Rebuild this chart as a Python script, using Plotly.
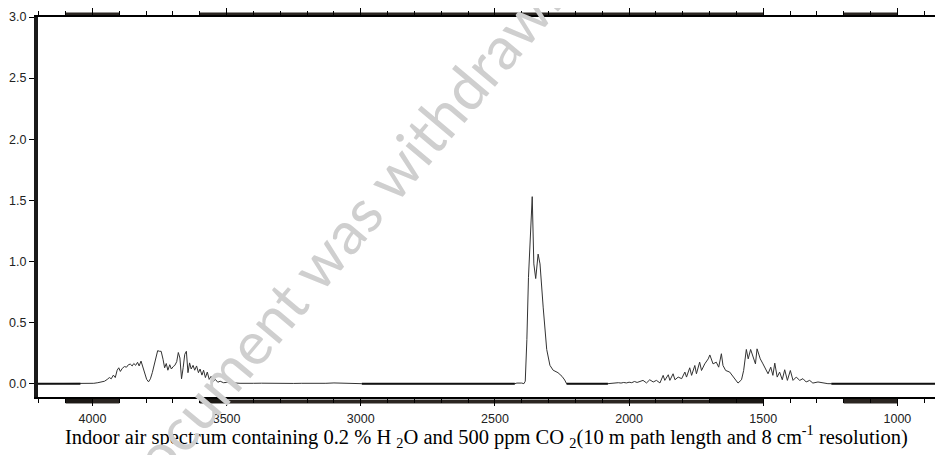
import plotly.graph_objects as go

# Wavenumber (cm-1) and absorbance
wavenumber = [
    4203, 4045, 4030, 4010, 3995, 3980, 3965, 3955, 3945, 3937, 3930, 3922, 3915, 3908, 3902, 3896,
    3889, 3881, 3873, 3866, 3859, 3852, 3846, 3839, 3832, 3826, 3819, 3812, 3805, 3798, 3791, 3784,
    3777, 3770, 3763, 3757, 3750, 3744, 3737, 3731, 3725, 3719, 3712, 3706, 3699, 3693, 3686, 3680,
    3674, 3668, 3662, 3656, 3650, 3644, 3638, 3632, 3625, 3619, 3612, 3605, 3599, 3592, 3586, 3579,
    3572, 3565, 3558, 3550, 3542, 3533, 3524, 3512, 3500, 3485, 3470, 3450, 3430, 3400, 3370, 3340,
    3310, 3280, 3250, 3220, 3190, 3160, 3130, 3100, 3070, 3040, 3010, 2996,
    2426, 2418, 2400, 2392, 2387, 2381, 2375, 2368, 2361, 2355, 2348, 2339, 2332, 2320, 2307, 2295,
    2283, 2265, 2250, 2240, 2233,
    2079, 2070, 2060, 2050, 2040, 2030, 2020, 2010, 2000, 1990, 1980, 1970, 1960, 1948, 1935, 1923,
    1910, 1898, 1885, 1873, 1867, 1854, 1848, 1836, 1829, 1817, 1804, 1792, 1786, 1774, 1767, 1755,
    1749, 1737, 1730, 1718, 1705, 1699, 1687, 1675, 1666, 1656, 1650, 1640, 1625, 1606, 1594, 1581,
    1573, 1563, 1556, 1547, 1538, 1529, 1523, 1511, 1501, 1491, 1482, 1472, 1464, 1457, 1448, 1439,
    1429, 1420, 1410, 1399, 1389, 1377, 1364, 1352, 1340, 1327, 1315, 1296, 1278, 1259, 1246, 830,
]
absorbance = [
    0, 0, 0.002, 0.004, 0.003, 0.008, 0.012, 0.02, 0.035, 0.05, 0.04, 0.07, 0.05, 0.11, 0.13, 0.10,
    0.125, 0.14, 0.135, 0.155, 0.16, 0.145, 0.165, 0.15, 0.175, 0.145, 0.185, 0.13, 0.09, 0.035, 0.015, 0.04,
    0.09, 0.15, 0.22, 0.27, 0.265, 0.265, 0.20, 0.13, 0.165, 0.11, 0.155, 0.12, 0.14, 0.15, 0.18, 0.255,
    0.21, 0.04, 0.13, 0.24, 0.265, 0.09, 0.17, 0.12, 0.15, 0.11, 0.145, 0.09, 0.12, 0.07, 0.11, 0.05,
    0.095, 0.035, 0.06, 0.02, 0.035, 0.012, 0.02, 0.008, 0.01, 0.005, 0.006, 0.003, 0.005, 0.003, 0.004, 0.002,
    0.004, 0.003, 0.002, 0.003, 0.002, 0.004, 0.003, 0.006, 0.003, 0.005, 0.002, 0,
    0, 0.005, 0.005, 0.0, 0.02, 0.36, 0.87, 1.26, 1.53, 0.98, 0.86, 1.06, 0.98, 0.62, 0.28, 0.15,
    0.11, 0.09, 0.06, 0.03, 0,
    0, 0.003, 0.006, 0.004, 0.008, 0.005, 0.01, 0.006, 0.012, 0.008, 0.018, 0.01, 0.015, 0.027, 0.006, 0.032,
    0.014, 0.027, 0.006, 0.068, 0.027, 0.073, 0.027, 0.081, 0.032, 0.054, 0.041, 0.095, 0.054, 0.13, 0.068, 0.149,
    0.081, 0.176, 0.108, 0.162, 0.203, 0.235, 0.162, 0.176, 0.135, 0.245, 0.149, 0.108, 0.095, 0.041, 0.005, 0.032,
    0.108, 0.28, 0.203, 0.28, 0.216, 0.162, 0.285, 0.203, 0.162, 0.122, 0.081, 0.135, 0.068, 0.168, 0.054, 0.095,
    0.032, 0.114, 0.027, 0.108, 0.027, 0.054, 0.027, 0.041, 0.014, 0.027, 0.005, 0.014, 0.005, 0.0, 0, 0,
]

# flat (zero) baseline stretches, drawn heavier as in the reference
baseline_start = [4203, 2996, 2233, 1246]
baseline_end = [4045, 2426, 2079, 830]

x_ticks = [4000, 3500, 3000, 2500, 2000, 1500, 1000]
y_ticks = [0.0, 0.5, 1.0, 1.5, 2.0, 2.5, 3.0]

caption = ("Indoor air spectrum containing 0.2 % H <sub>2</sub>O and 500 ppm CO <sub>2</sub>"
           "(10 m path length and 8 cm<sup>-1</sup> resolution)")
watermark = "document was withdrawn"

fig = go.Figure()
fig.add_trace(go.Scatter(x=wavenumber, y=absorbance, mode="lines",
                         line=dict(color="#333333", width=1), hoverinfo="skip", showlegend=False))
for s, e in zip(baseline_start, baseline_end):
    fig.add_trace(go.Scatter(x=[s, e], y=[0, 0], mode="lines",
                             line=dict(color="#111111", width=2), hoverinfo="skip", showlegend=False))

# decorative dark bars along the top and bottom axes (as in the scanned original)
dark = "#2b2622"
blk = "#1c1915"
shapes = []
top_bars = [(4100, 3900), (3600, 1500), (1200, 1000)]
for a, b in top_bars:
    shapes.append(dict(type="rect", xref="x", yref="paper", x0=a, x1=b, y0=1.001, y1=1.012,
                       fillcolor=dark, line=dict(width=0), layer="below"))
bottom_bars = [(4100, 4000, blk), (4000, 3900, dark), (3600, 3500, blk), (3500, 1700, dark),
               (1700, 1500, blk), (1200, 1000, dark)]
for a, b, c in bottom_bars:
    shapes.append(dict(type="rect", xref="x", yref="paper", x0=a, x1=b, y0=-0.017, y1=-0.001,
                       fillcolor=c, line=dict(width=0), layer="below"))
shapes.append(dict(type="rect", xref="x", yref="paper", x0=3500, x1=1700, y0=-0.008, y1=-0.003,
                   fillcolor="#a8a8a8", line=dict(width=0), layer="below"))

# the page body adds an 8px offset, so the figure is 8px smaller and margins shifted
fig.update_layout(
    width=935, height=447,
    margin=dict(l=30, r=0, t=5, b=58),
    paper_bgcolor="white", plot_bgcolor="white",
    shapes=shapes,
    xaxis=dict(range=[4203, 830], tickvals=x_ticks, ticktext=[str(v) for v in x_ticks],
               showgrid=False, zeroline=False, showline=True, linecolor="black", linewidth=1.5,
               mirror="ticks", ticks="outside", ticklen=7, tickwidth=1.2, tickcolor="black",
               ticklabelstandoff=2,
               minor=dict(dtick=100, tick0=0, ticks="outside", ticklen=4, tickwidth=1, tickcolor="black"),
               tickfont=dict(family="Liberation Sans, Arial", size=12.5, color="#222222")),
    yaxis=dict(range=[-0.109, 3.0], tickvals=y_ticks, ticktext=[f"{v:.1f}" for v in y_ticks],
               showgrid=False, zeroline=False, showline=True, linecolor="#1a1a1a", linewidth=4,
               ticks="outside", ticklen=5, tickwidth=1.2, tickcolor="black",
               tickfont=dict(family="Liberation Sans, Arial", size=12.5, color="#222222")),
    annotations=[
        dict(text=caption, xref="paper", yref="paper", x=0.496, y=-0.104, xanchor="center",
             yanchor="middle", showarrow=False,
             font=dict(family="Liberation Serif, Times New Roman", size=20.5, color="black")),
        dict(text=watermark, xref="paper", yref="paper", x=0.335, y=0.43, xanchor="center",
             yanchor="middle", showarrow=False, textangle=-50,
             font=dict(family="Lato, Open Sans", size=60, color="#cfcfcf")),
    ],
)

fig.write_html("out.html")
